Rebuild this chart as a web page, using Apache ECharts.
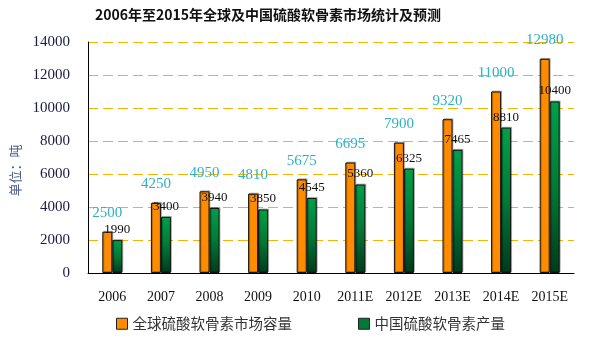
<!DOCTYPE html>
<html>
<head>
<meta charset="utf-8">
<script src="https://cdn.jsdelivr.net/npm/echarts@6/dist/echarts.min.js"></script>
<style>
  html, body { margin: 0; padding: 0; background: #fff; }
  #chart { width: 600px; height: 350px; }
</style>
</head>
<body>
<div id="chart"></div>
<script>
const years = ["2006", "2007", "2008", "2009", "2010", "2011E", "2012E", "2013E", "2014E", "2015E"];
const globalMarket = [2500, 4250, 4950, 4810, 5675, 6695, 7900, 9320, 11000, 12980];
const chinaOutput = [1990, 3400, 3940, 3850, 4545, 5360, 6325, 7465, 8810, 10400];
const yTicks = [0, 2000, 4000, 6000, 8000, 10000, 12000, 14000];

const serif = "Liberation Serif";
const cjk = "Noto Sans CJK SC";

const myChart = echarts.init(document.getElementById("chart"));

const option = {
  animation: false,
  title: {
    text: "2006年至2015年全球及中国硫酸软骨素市场统计及预测",
    left: 263,
    top: 3,
    textAlign: "center",
    textStyle: { fontFamily: cjk, fontSize: 14, fontWeight: "bold", color: "#111" },
  },
  legend: {
    bottom: 14,
    left: 111,
    itemGap: 66,
    itemWidth: 11,
    itemHeight: 11,
    icon: "rect",
    textStyle: { fontFamily: cjk, fontSize: 14.5, color: "#333" },
    data: [
      { name: "全球硫酸软骨素市场容量", itemStyle: { color: "#ff8c00", borderColor: "#222", borderWidth: 1 } },
      { name: "中国硫酸软骨素产量", itemStyle: { color: "#007a38", borderColor: "#222", borderWidth: 1 } },
    ],
  },
  grid: { left: 88, right: 26, top: 42, bottom: 77 },
  xAxis: {
    type: "category",
    data: years,
    axisLine: { lineStyle: { color: "#000", width: 1 } },
    axisTick: { inside: true, length: 4, lineStyle: { color: "#000" } },
    axisLabel: { fontFamily: serif, fontSize: 14, color: "#111", margin: 17 },
  },
  yAxis: {
    type: "value",
    min: yTicks[0],
    max: yTicks[yTicks.length - 1],
    interval: 2000,
    name: "单位：吨",
    nameLocation: "middle",
    nameGap: 57,
    nameTextStyle: { fontFamily: cjk, fontSize: 13, color: "#4a5a88", padding: [0, 0, 0, -26] },
    axisLine: { show: true, lineStyle: { color: "#000", width: 1 } },
    axisTick: { show: false },
    axisLabel: {
      fontFamily: serif,
      fontSize: 15,
      color: "#1a1a44",
      margin: 18,
      formatter: function (v) { return String(v); },
    },
    splitLine: { lineStyle: { color: ["#f5b400"], type: [10, 5], width: 1 } },
  },
  series: [
    {
      name: "全球硫酸软骨素市场容量",
      type: "bar",
      data: globalMarket,
      barWidth: 10,
      barGap: "0%",
      itemStyle: {
        color: "#ff8c00",
        borderColor: "#111",
        borderWidth: 1,
        shadowColor: "rgba(0,0,0,0.25)",
        shadowOffsetX: 1,
        shadowOffsetY: -1,
      },
      label: {
        show: true,
        position: "top",
        distance: 11,
        fontFamily: serif,
        fontSize: 15,
        color: "#2fb0c4",
      },
    },
    {
      name: "中国硫酸软骨素产量",
      type: "bar",
      data: chinaOutput,
      barWidth: 10,
      itemStyle: {
        color: new echarts.graphic.LinearGradient(0, 0, 0, 1, [
          { offset: 0, color: "#00a048" },
          { offset: 0.5, color: "#007a36" },
          { offset: 1, color: "#003a1c" },
        ]),
        borderColor: "#111",
        borderWidth: 1,
        shadowColor: "rgba(0,0,0,0.25)",
        shadowOffsetX: 1,
        shadowOffsetY: -1,
      },
      label: {
        show: true,
        position: "top",
        distance: 4,
        fontFamily: serif,
        fontSize: 13,
        color: "#111",
      },
    },
  ],
};

myChart.setOption(option);
window.onresize = function () {
  myChart.resize();
};
</script>
</body>
</html>
